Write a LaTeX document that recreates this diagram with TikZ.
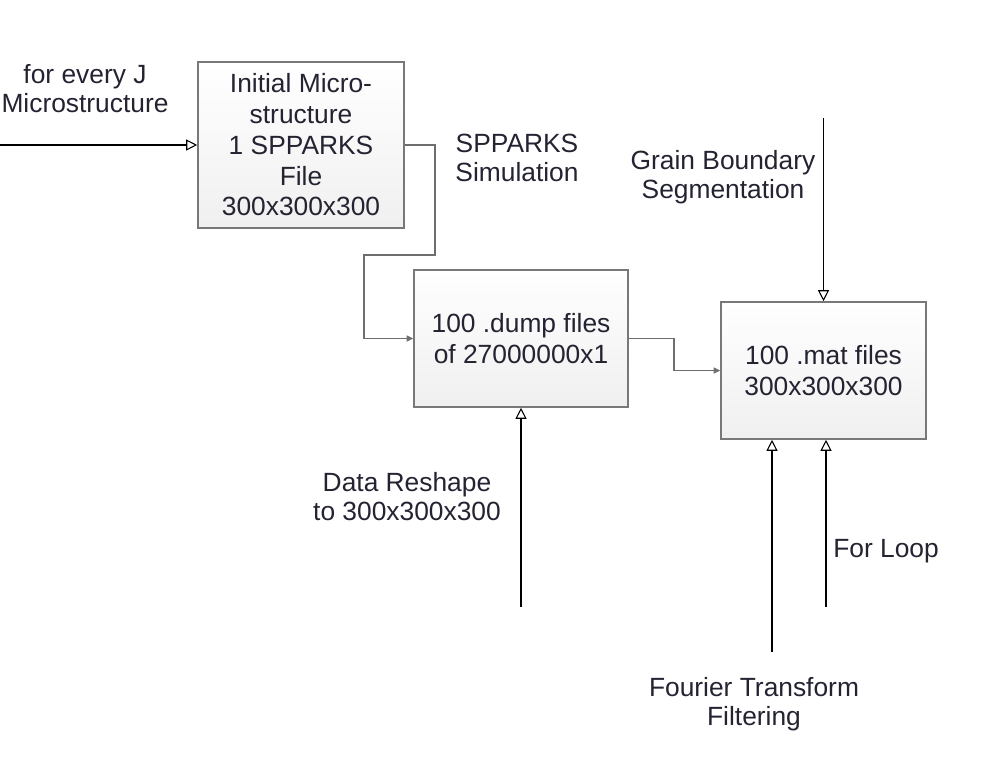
\documentclass[tikz,border=0pt]{standalone}
\usepackage{fontspec}
\setmainfont{Liberation Sans}
\usetikzlibrary{arrows.meta}
\definecolor{textc}{RGB}{35,35,50}
\definecolor{boxgray}{RGB}{120,120,120}
\definecolor{linegray}{RGB}{110,110,110}

\begin{document}
\begin{tikzpicture}[x=0.2mm, y=0.2mm,
    block/.style={draw=boxgray, line width=0.9pt, top color=white, bottom color=black!6,
        align=center, text=textc, inner sep=0pt, font=\fontsize{15}{17.5}\selectfont},
    lbl/.style={align=center, text=textc, font=\fontsize{15}{16.5}\selectfont},
    feed/.style={draw=black, line width=0.6pt, -{Triangle[open, length=2.2mm, width=2.2mm]}},
    link/.style={draw=linegray, line width=0.8pt, -{Triangle[length=1.3mm, width=1.2mm]}}]

\useasboundingbox (0,0) rectangle (1000,763);

% Blocks
\node[block, minimum width=41.2mm, minimum height=33.2mm] (init) at (301,618)
    {Initial Micro-\\structure\\1 SPPARKS\\File\\300x300x300};
\node[block, minimum width=42.8mm, minimum height=27.4mm] (dump) at (521,424.5)
    {100 .dump files\\of 27000000x1};
\node[block, minimum width=41mm, minimum height=27.4mm] (mat) at (823.5,392.5)
    {100 .mat files\\300x300x300};

% Labels
\node[lbl] (every) at (85,674) {for every J\\Microstructure};
\node[lbl] (sim) at (517,605.5) {SPPARKS\\Simulation};
\node[lbl] (seg) at (723,586) {Grain Boundary\\Segmentation};
\node[lbl] (reshape) at (407,266) {Data Reshape\\to 300x300x300};
\node[lbl] (loop) at (886,212) {For Loop};
\node[lbl] (fourier) at (754,59) {Fourier Transform\\Filtering};

% Free ends of the inputs
\coordinate (in) at (0,618);
\coordinate (segin) at (823.5,645);
\coordinate (reshin) at (521,156);
\coordinate (fourin) at (772,111);
\coordinate (loopin) at (826,156);

% Connectors
\draw[feed] (in) -- (init.west);
\draw[link] (init.east) -| (435,508) -- (364,508) |- (dump.west);
\draw[link] (dump.east) -- ++(45,0) |- (mat.west);
\draw[feed] (segin) -- (mat.north);
\draw[feed] (reshin) -- (dump.south);
\foreach \p in {fourin, loopin} {
    \draw[feed] (\p) -- (\p |- mat.south);
}
\end{tikzpicture}
\end{document}
